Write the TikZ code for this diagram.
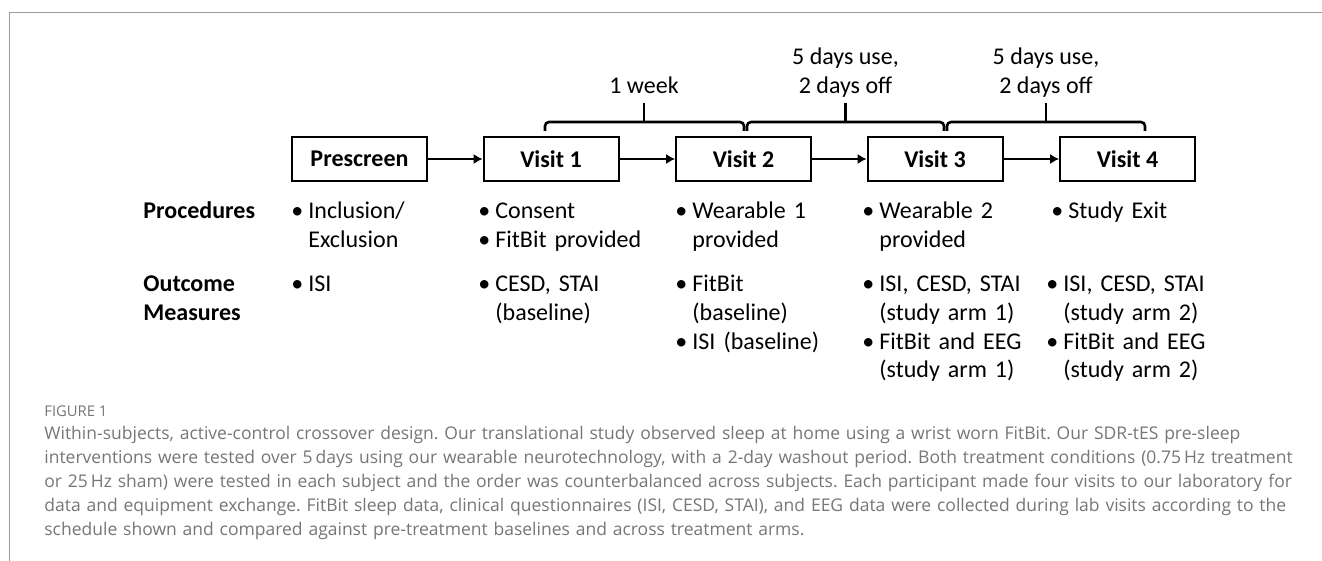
\documentclass[tikz,border=0pt]{standalone}
\usepackage{fontspec}
\setmainfont{Carlito}
\newfontfamily\capfont{Open Sans}
\usepackage{xcolor}
\usepackage{tikz}
\usetikzlibrary{arrows.meta,positioning}

\definecolor{capgray}{RGB}{118,118,118}
\definecolor{framegray}{RGB}{155,155,155}

% bullet and hanging indent for the lists
\newcommand{\itm}{\makebox[8.5pt][l]{\textbullet}}
\newcommand{\cnt}{\hspace*{8.5pt}}

\tikzset{
  visitbox/.style={draw, rectangle, line width=1pt, minimum width=67.5pt,
    minimum height=22pt, inner sep=0pt, font=\bfseries},
  flowarrow/.style={-{Latex[length=4.5pt,width=5pt]}, line width=0.6pt},
  spanbrace/.style={line width=1.3pt, rounded corners=2pt},
  spanlabel/.style={align=center, inner sep=0pt},
  rowlabel/.style={anchor=base west, text width=65pt, inner sep=0pt, font=\bfseries},
  itemlist/.style={anchor=base west, text width=120pt, inner sep=0pt},
  captext/.style={anchor=base west, inner sep=0pt, text=capgray}
}

\begin{document}
\frenchspacing
\fontsize{12}{14.4}\selectfont
\begin{tikzpicture}[x=0.5pt,y=-0.5pt]
\useasboundingbox (0,0) rectangle (1322,561);
\draw[framegray, line width=0.8pt] (9.3,561) -- (9.3,12.5) -- (1322,12.5);

% visits
\node at (359.5,159) (pre) [visitbox] {Prescreen};
\node at (551,159) (v1) [visitbox] {Visit 1};
\node at (743.5,159) (v2) [visitbox] {Visit 2};
\node at (935,159) (v3) [visitbox] {Visit 3};
\node at (1127.5,159) (v4) [visitbox] {Visit 4};

\draw[flowarrow] (pre) -- (v1);
\draw[flowarrow] (v1) -- (v2);
\draw[flowarrow] (v2) -- (v3);
\draw[flowarrow] (v3) -- (v4);

% time spans
\draw[spanbrace] (545,131) -- (545,122) -- (744,122) -- (744,131);
\draw[spanbrace] (747,131) -- (747,122) -- (944,122) -- (944,131);
\draw[spanbrace] (947,131) -- (947,122) -- (1145,122) -- (1145,131);
\draw[line width=1.3pt] (644,122) -- (644,103);
\draw[line width=1.3pt] (845.5,122) -- (845.5,103);
\draw[line width=1.3pt] (1046,122) -- (1046,103);
\node at (644,85) (wk) [spanlabel] {1 week};
\node at (845.5,73) (use1) [spanlabel] {5 days use,\\2 days off};
\node at (1046,73) (use2) [spanlabel] {5 days use,\\2 days off};

% rows
\node at (143,218.5) (proc) [rowlabel] {Procedures};
\node at (143,291.5) (outc) [rowlabel] {Outcome\\Measures};

\node at (291,218.5) (prep) [itemlist] {\itm Inclusion/\\\cnt Exclusion};
\node at (291,291.5) (preo) [itemlist] {\itm ISI};
\node at (478,218.5) (v1p) [itemlist] {\itm Consent\\\itm FitBit provided};
\node at (478,291.5) (v1o) [itemlist] {\itm CESD, STAI\\\cnt (baseline)};
\node at (675,218.5) (v2p) [itemlist] {\itm Wearable 1\\\cnt provided};
\node at (675,291.5) (v2o) [itemlist] {\itm FitBit\\\cnt (baseline)\\\itm ISI (baseline)};
\node at (862,218.5) (v3p) [itemlist] {\itm Wearable 2\\\cnt provided};
\node at (862,291.5) (v3o) [itemlist] {\itm ISI, CESD, STAI\\\cnt (study arm 1)\\\itm FitBit and EEG\\\cnt (study arm 1)};
\node at (1051,218.5) (v4p) [itemlist] {\itm Study Exit};
\node at (1046,291.5) (v4o) [itemlist] {\itm ISI, CESD, STAI\\\cnt (study arm 2)\\\itm FitBit and EEG\\\cnt (study arm 2)};

% caption
\node at (44,416) (fig) [captext, font=\capfont\fontsize{7.4}{9}\selectfont] {FIGURE 1};
\node at (44,439) (cap) [captext, text width=700pt, font=\capfont\fontsize{8.75}{12}\selectfont]
  {Within-subjects, active-control crossover design. Our translational study observed sleep at home using a wrist worn FitBit. Our SDR-tES pre-sleep\\
   interventions were tested over 5\,days using our wearable neurotechnology, with a 2-day washout period. Both treatment conditions (0.75\,Hz treatment\\
   or 25\,Hz sham) were tested in each subject and the order was counterbalanced across subjects. Each participant made four visits to our laboratory for\\
   data and equipment exchange. FitBit sleep data, clinical questionnaires (ISI, CESD, STAI), and EEG data were collected during lab visits according to the\\
   schedule shown and compared against pre-treatment baselines and across treatment arms.};
\end{tikzpicture}
\end{document}
